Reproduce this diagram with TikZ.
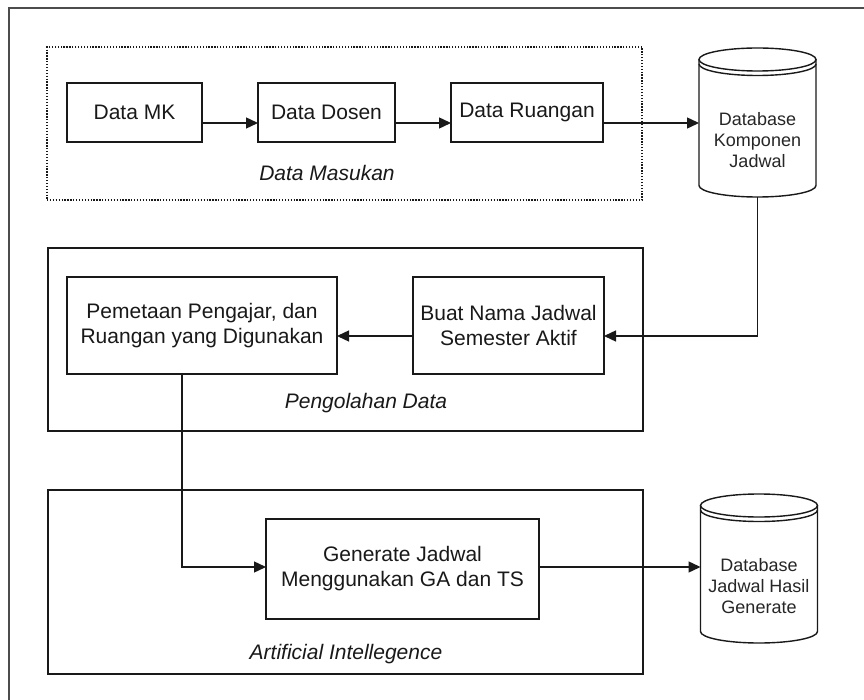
\documentclass[tikz,border=0pt]{standalone}
\usepackage{fontspec}
\setmainfont{Liberation Sans}
\usetikzlibrary{arrows.meta,calc}

% Cylinder outline drawn around an invisible node of the same size
\newcommand{\dbcylinder}[1]{%
  \path[draw, fill=white] ($(#1.north west)+(0,11.5)$) -- ($(#1.south west)+(0,-11.5)$)
    arc[start angle=180, end angle=360, x radius=58.5pt, y radius=11.5pt]
    -- ($(#1.north east)+(0,11.5)$);
  \draw ($(#1.north)+(0,11.5)$) ellipse [x radius=58.5pt, y radius=11.5pt];
  \draw ($(#1.north west)+(0,16)$)
    arc[start angle=180, end angle=360, x radius=58.5pt, y radius=11.5pt];
}

\begin{document}
\begin{tikzpicture}[x=1pt, y=-1pt, line width=1.4pt, draw=black!90,
  txt/.style={font=\fontsize{21}{25}\selectfont, align=center, text=black!90},
  procbox/.style={draw, txt, inner sep=0pt, outer sep=0pt},
  groupbox/.style={draw, inner sep=0pt, outer sep=0pt},
  dotbox/.style={draw, dash pattern=on 1.3pt off 1.6pt, inner sep=0pt, outer sep=0pt},
  dbnode/.style={inner sep=0pt, outer sep=0pt, minimum width=117pt, minimum height=149pt},
  dbtext/.style={font=\fontsize{18}{21}\selectfont, align=center, text=black!85},
  grouplabel/.style={font=\fontsize{21}{25}\selectfont\itshape, anchor=base, text=black!90},
  flow/.style={-{Triangle[length=12pt, width=11pt]}}]

\useasboundingbox (0,0) rectangle (864,700);
\fill[white] (0,0) rectangle (864,700);

% outer frame (right and bottom edges lie outside the page)
\draw[line width=1.8pt, draw=black!70] (9,8) rectangle (900,740);

% group containers
\node[dotbox, minimum width=595pt, minimum height=153pt] (grpin) at (344.5,123.5) {};
\node[groupbox, minimum width=595pt, minimum height=183pt] (grpproc) at (345.5,339.5) {};
\node[groupbox, minimum width=595pt, minimum height=184pt] (grpai) at (345.5,582) {};

\node[grouplabel] (lblin) at (327,181) {Data Masukan};
\node[grouplabel] (lblproc) at (366,408) {Pengolahan Data};
\node[grouplabel] (lblai) at (346,659) {Artificial Intellegence};

% process boxes
\node[procbox, minimum width=135pt, minimum height=59pt] (mk) at (134.5,112.5) {Data MK};
\node[procbox, minimum width=137pt, minimum height=59pt] (dosen) at (326.5,112.5) {Data Dosen};
\node[procbox, minimum width=152pt, minimum height=59pt] (ruang) at (527,112.5) {Data Ruangan};
\node[procbox, minimum width=270pt, minimum height=97pt] (peta) at (202,325.5) {Pemetaan Pengajar, dan\\Ruangan yang Digunakan};
\node[procbox, minimum width=191pt, minimum height=97pt] (buat) at (508.5,325.5) {Buat Nama Jadwal\\Semester Aktif};
\node[procbox, minimum width=273pt, minimum height=100pt] (gen) at (402.5,569) {Generate Jadwal\\Menggunakan GA dan TS};

% databases
\node[dbnode] (db1) at (757.5,122.5) {};
\dbcylinder{db1}
\node[dbtext] (db1txt) at (757.5,140) {Database\\Komponen\\Jadwal};
\node[dbnode] (db2) at (759,568.5) {};
\dbcylinder{db2}
\node[dbtext] (db2txt) at (759,586) {Database\\Jadwal Hasil\\Generate};

% connectors
\draw[flow] ([yshift=-10.5pt]mk.east) -- ([yshift=-10.5pt]dosen.west);
\draw[flow] ([yshift=-10.5pt]dosen.east) -- ([yshift=-10.5pt]ruang.west);
\draw[flow] ([yshift=-10.5pt]ruang.east) -- ([yshift=-10.5pt]ruang.east -| db1.west);
\draw[flow] (db1.south) |- ([yshift=-10.5pt]buat.east);
\draw[flow] ([yshift=-10.5pt]buat.west) -- ([yshift=-10.5pt]buat.west -| peta.east);
\draw[flow] ([xshift=-20pt]peta.south) |- ([yshift=2pt]gen.west);
\draw[flow] ([yshift=2pt]gen.east) -- ([yshift=2pt]gen.east -| db2.west);

\end{tikzpicture}
\end{document}
